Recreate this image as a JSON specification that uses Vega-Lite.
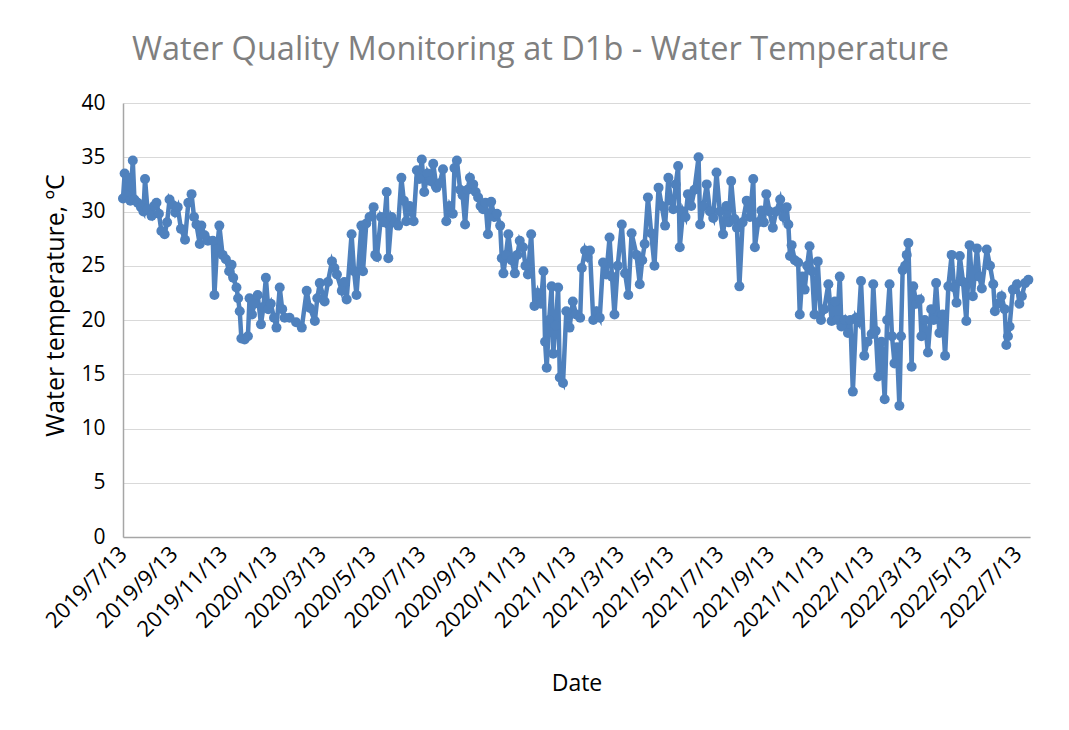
{
  "$schema": "https://vega.github.io/schema/vega-lite/v6.json",
  "width": 907,
  "height": 434,
  "autosize": {"type": "none"},
  "padding": {"left": 123, "top": 103, "right": 39, "bottom": 193},
  "background": "white",
  "title": {
    "text": "Water Quality Monitoring at D1b - Water Temperature",
    "font": "Open Sans",
    "fontSize": 32.5,
    "fontWeight": "normal",
    "color": "#7f7f7f",
    "anchor": "middle",
    "dx": -36,
    "offset": 26
  },
  "config": {
    "view": {"stroke": null},
    "axis": {"labelFont": "Open Sans", "titleFont": "Open Sans", "labelColor": "#000000", "titleColor": "#000000", "titleFontWeight": "normal"}
  },
  "data": {
    "values": [
      {"date": "2019-07-13", "temp": 31.2}, {"date": "2019-07-15", "temp": 33.5}, {"date": "2019-07-17", "temp": 31.5}, {"date": "2019-07-19", "temp": 33.1},
      {"date": "2019-07-22", "temp": 31.0}, {"date": "2019-07-25", "temp": 34.7}, {"date": "2019-07-27", "temp": 31.1}, {"date": "2019-07-31", "temp": 30.8},
      {"date": "2019-08-04", "temp": 30.4}, {"date": "2019-08-07", "temp": 30.0}, {"date": "2019-08-09", "temp": 33.0}, {"date": "2019-08-12", "temp": 30.2},
      {"date": "2019-08-17", "temp": 29.6}, {"date": "2019-08-20", "temp": 30.5}, {"date": "2019-08-23", "temp": 30.8}, {"date": "2019-08-26", "temp": 29.8},
      {"date": "2019-08-29", "temp": 28.2}, {"date": "2019-09-02", "temp": 27.9}, {"date": "2019-09-05", "temp": 29.0}, {"date": "2019-09-08", "temp": 31.1},
      {"date": "2019-09-12", "temp": 30.6}, {"date": "2019-09-15", "temp": 29.9}, {"date": "2019-09-18", "temp": 30.4}, {"date": "2019-09-22", "temp": 28.4},
      {"date": "2019-09-27", "temp": 27.4}, {"date": "2019-10-01", "temp": 30.8}, {"date": "2019-10-05", "temp": 31.6}, {"date": "2019-10-08", "temp": 29.5},
      {"date": "2019-10-11", "temp": 28.8}, {"date": "2019-10-15", "temp": 27.0}, {"date": "2019-10-17", "temp": 28.7}, {"date": "2019-10-21", "temp": 27.8},
      {"date": "2019-10-25", "temp": 27.3}, {"date": "2019-10-31", "temp": 27.3}, {"date": "2019-11-02", "temp": 22.3}, {"date": "2019-11-05", "temp": 26.5},
      {"date": "2019-11-08", "temp": 28.7}, {"date": "2019-11-12", "temp": 26.0}, {"date": "2019-11-16", "temp": 25.6}, {"date": "2019-11-20", "temp": 24.5},
      {"date": "2019-11-23", "temp": 25.1}, {"date": "2019-11-25", "temp": 23.9}, {"date": "2019-11-29", "temp": 23.0}, {"date": "2019-12-01", "temp": 22.0},
      {"date": "2019-12-03", "temp": 20.8}, {"date": "2019-12-05", "temp": 18.3}, {"date": "2019-12-09", "temp": 18.2}, {"date": "2019-12-13", "temp": 18.5},
      {"date": "2019-12-15", "temp": 22.0}, {"date": "2019-12-18", "temp": 20.5}, {"date": "2019-12-21", "temp": 21.5}, {"date": "2019-12-25", "temp": 22.3},
      {"date": "2019-12-29", "temp": 19.6}, {"date": "2020-01-01", "temp": 21.2}, {"date": "2020-01-04", "temp": 23.9}, {"date": "2020-01-07", "temp": 21.0},
      {"date": "2020-01-10", "temp": 21.5}, {"date": "2020-01-14", "temp": 20.2}, {"date": "2020-01-17", "temp": 19.3}, {"date": "2020-01-21", "temp": 23.0},
      {"date": "2020-01-24", "temp": 21.0}, {"date": "2020-01-27", "temp": 20.2}, {"date": "2020-02-02", "temp": 20.2}, {"date": "2020-02-10", "temp": 19.8},
      {"date": "2020-02-17", "temp": 19.3}, {"date": "2020-02-23", "temp": 22.7}, {"date": "2020-02-27", "temp": 21.1}, {"date": "2020-03-04", "temp": 19.9},
      {"date": "2020-03-07", "temp": 22.0}, {"date": "2020-03-10", "temp": 23.4}, {"date": "2020-03-16", "temp": 21.7}, {"date": "2020-03-20", "temp": 23.5},
      {"date": "2020-03-25", "temp": 25.4}, {"date": "2020-03-28", "temp": 24.8}, {"date": "2020-03-31", "temp": 24.2}, {"date": "2020-04-06", "temp": 22.7},
      {"date": "2020-04-09", "temp": 23.5}, {"date": "2020-04-12", "temp": 21.9}, {"date": "2020-04-18", "temp": 27.9}, {"date": "2020-04-21", "temp": 24.5},
      {"date": "2020-04-24", "temp": 22.3}, {"date": "2020-04-30", "temp": 28.7}, {"date": "2020-05-02", "temp": 24.5}, {"date": "2020-05-06", "temp": 28.9},
      {"date": "2020-05-10", "temp": 29.5}, {"date": "2020-05-15", "temp": 30.4}, {"date": "2020-05-17", "temp": 26.0}, {"date": "2020-05-19", "temp": 25.8},
      {"date": "2020-05-24", "temp": 29.5}, {"date": "2020-05-28", "temp": 29.0}, {"date": "2020-05-31", "temp": 31.8}, {"date": "2020-06-02", "temp": 25.7},
      {"date": "2020-06-06", "temp": 29.5}, {"date": "2020-06-10", "temp": 29.0}, {"date": "2020-06-14", "temp": 28.7}, {"date": "2020-06-18", "temp": 33.1},
      {"date": "2020-06-21", "temp": 31.0}, {"date": "2020-06-24", "temp": 29.1}, {"date": "2020-06-28", "temp": 30.5}, {"date": "2020-07-03", "temp": 29.1},
      {"date": "2020-07-07", "temp": 33.8}, {"date": "2020-07-10", "temp": 33.0}, {"date": "2020-07-13", "temp": 34.8}, {"date": "2020-07-16", "temp": 31.8},
      {"date": "2020-07-20", "temp": 33.5}, {"date": "2020-07-24", "temp": 32.8}, {"date": "2020-07-27", "temp": 34.4}, {"date": "2020-07-31", "temp": 32.2},
      {"date": "2020-08-04", "temp": 32.6}, {"date": "2020-08-08", "temp": 33.9}, {"date": "2020-08-12", "temp": 29.1}, {"date": "2020-08-16", "temp": 30.5},
      {"date": "2020-08-20", "temp": 29.8}, {"date": "2020-08-22", "temp": 34.0}, {"date": "2020-08-25", "temp": 34.7}, {"date": "2020-08-29", "temp": 32.0},
      {"date": "2020-09-01", "temp": 31.5}, {"date": "2020-09-04", "temp": 28.8}, {"date": "2020-09-07", "temp": 32.0}, {"date": "2020-09-10", "temp": 33.1},
      {"date": "2020-09-14", "temp": 32.5}, {"date": "2020-09-17", "temp": 31.8}, {"date": "2020-09-20", "temp": 31.3}, {"date": "2020-09-23", "temp": 30.5},
      {"date": "2020-09-26", "temp": 30.2}, {"date": "2020-09-29", "temp": 30.8}, {"date": "2020-10-02", "temp": 27.9}, {"date": "2020-10-06", "temp": 30.9},
      {"date": "2020-10-10", "temp": 29.5}, {"date": "2020-10-13", "temp": 29.8}, {"date": "2020-10-17", "temp": 28.7}, {"date": "2020-10-19", "temp": 25.7},
      {"date": "2020-10-21", "temp": 24.3}, {"date": "2020-10-24", "temp": 26.0}, {"date": "2020-10-27", "temp": 27.9}, {"date": "2020-10-31", "temp": 25.5},
      {"date": "2020-11-04", "temp": 24.3}, {"date": "2020-11-07", "temp": 26.0}, {"date": "2020-11-10", "temp": 27.3}, {"date": "2020-11-14", "temp": 26.7},
      {"date": "2020-11-17", "temp": 25.0}, {"date": "2020-11-20", "temp": 24.2}, {"date": "2020-11-24", "temp": 27.9}, {"date": "2020-11-28", "temp": 21.3},
      {"date": "2020-12-02", "temp": 22.5}, {"date": "2020-12-06", "temp": 21.5}, {"date": "2020-12-09", "temp": 24.5}, {"date": "2020-12-11", "temp": 18.0},
      {"date": "2020-12-13", "temp": 15.6}, {"date": "2020-12-16", "temp": 20.0}, {"date": "2020-12-19", "temp": 23.1}, {"date": "2020-12-21", "temp": 16.9},
      {"date": "2020-12-24", "temp": 19.5}, {"date": "2020-12-27", "temp": 23.0}, {"date": "2020-12-29", "temp": 14.7}, {"date": "2021-01-02", "temp": 14.2},
      {"date": "2021-01-06", "temp": 20.8}, {"date": "2021-01-10", "temp": 19.3}, {"date": "2021-01-14", "temp": 21.7}, {"date": "2021-01-18", "temp": 20.5},
      {"date": "2021-01-23", "temp": 20.2}, {"date": "2021-01-25", "temp": 24.8}, {"date": "2021-01-29", "temp": 26.4}, {"date": "2021-02-01", "temp": 25.8},
      {"date": "2021-02-04", "temp": 26.4}, {"date": "2021-02-08", "temp": 20.0}, {"date": "2021-02-12", "temp": 20.8}, {"date": "2021-02-16", "temp": 20.2},
      {"date": "2021-02-20", "temp": 25.3}, {"date": "2021-02-24", "temp": 24.2}, {"date": "2021-02-28", "temp": 27.6}, {"date": "2021-03-03", "temp": 24.0},
      {"date": "2021-03-06", "temp": 20.5}, {"date": "2021-03-10", "temp": 25.0}, {"date": "2021-03-15", "temp": 28.8}, {"date": "2021-03-19", "temp": 24.3},
      {"date": "2021-03-23", "temp": 22.3}, {"date": "2021-03-27", "temp": 28.0}, {"date": "2021-04-02", "temp": 26.0}, {"date": "2021-04-06", "temp": 23.3},
      {"date": "2021-04-09", "temp": 25.5}, {"date": "2021-04-12", "temp": 27.0}, {"date": "2021-04-16", "temp": 31.3}, {"date": "2021-04-20", "temp": 28.0},
      {"date": "2021-04-24", "temp": 25.0}, {"date": "2021-04-29", "temp": 32.2}, {"date": "2021-05-03", "temp": 30.5}, {"date": "2021-05-07", "temp": 28.7},
      {"date": "2021-05-11", "temp": 33.1}, {"date": "2021-05-14", "temp": 31.0}, {"date": "2021-05-17", "temp": 30.2}, {"date": "2021-05-20", "temp": 32.5},
      {"date": "2021-05-23", "temp": 34.2}, {"date": "2021-05-25", "temp": 26.7}, {"date": "2021-05-29", "temp": 30.0}, {"date": "2021-06-01", "temp": 29.5},
      {"date": "2021-06-04", "temp": 31.6}, {"date": "2021-06-08", "temp": 30.5}, {"date": "2021-06-12", "temp": 32.0}, {"date": "2021-06-17", "temp": 35.0},
      {"date": "2021-06-19", "temp": 28.8}, {"date": "2021-06-23", "temp": 30.5}, {"date": "2021-06-27", "temp": 32.5}, {"date": "2021-07-01", "temp": 30.0},
      {"date": "2021-07-05", "temp": 29.4}, {"date": "2021-07-09", "temp": 33.6}, {"date": "2021-07-13", "temp": 30.0}, {"date": "2021-07-17", "temp": 27.9},
      {"date": "2021-07-21", "temp": 30.5}, {"date": "2021-07-24", "temp": 29.0}, {"date": "2021-07-27", "temp": 32.8}, {"date": "2021-07-31", "temp": 29.3},
      {"date": "2021-08-03", "temp": 28.5}, {"date": "2021-08-06", "temp": 23.1}, {"date": "2021-08-10", "temp": 29.0}, {"date": "2021-08-15", "temp": 31.0},
      {"date": "2021-08-19", "temp": 29.5}, {"date": "2021-08-23", "temp": 33.0}, {"date": "2021-08-25", "temp": 26.7}, {"date": "2021-08-29", "temp": 29.0},
      {"date": "2021-09-02", "temp": 30.1}, {"date": "2021-09-05", "temp": 29.0}, {"date": "2021-09-08", "temp": 31.6}, {"date": "2021-09-12", "temp": 30.0},
      {"date": "2021-09-16", "temp": 28.5}, {"date": "2021-09-20", "temp": 30.0}, {"date": "2021-09-25", "temp": 31.1}, {"date": "2021-09-29", "temp": 29.5},
      {"date": "2021-10-03", "temp": 30.4}, {"date": "2021-10-05", "temp": 28.8}, {"date": "2021-10-07", "temp": 25.9}, {"date": "2021-10-09", "temp": 26.9},
      {"date": "2021-10-13", "temp": 25.5}, {"date": "2021-10-17", "temp": 25.3}, {"date": "2021-10-19", "temp": 20.5}, {"date": "2021-10-22", "temp": 24.0},
      {"date": "2021-10-25", "temp": 22.8}, {"date": "2021-10-28", "temp": 25.0}, {"date": "2021-10-31", "temp": 26.8}, {"date": "2021-11-03", "temp": 24.5},
      {"date": "2021-11-06", "temp": 20.5}, {"date": "2021-11-10", "temp": 25.4}, {"date": "2021-11-14", "temp": 20.0}, {"date": "2021-11-18", "temp": 21.0},
      {"date": "2021-11-23", "temp": 23.3}, {"date": "2021-11-27", "temp": 19.9}, {"date": "2021-12-01", "temp": 21.7}, {"date": "2021-12-04", "temp": 20.0},
      {"date": "2021-12-07", "temp": 24.0}, {"date": "2021-12-09", "temp": 19.4}, {"date": "2021-12-13", "temp": 20.0}, {"date": "2021-12-17", "temp": 18.8},
      {"date": "2021-12-20", "temp": 20.0}, {"date": "2021-12-23", "temp": 13.4}, {"date": "2021-12-27", "temp": 20.2}, {"date": "2021-12-30", "temp": 19.8},
      {"date": "2022-01-02", "temp": 23.6}, {"date": "2022-01-06", "temp": 16.7}, {"date": "2022-01-10", "temp": 18.0}, {"date": "2022-01-15", "temp": 18.7},
      {"date": "2022-01-17", "temp": 23.3}, {"date": "2022-01-20", "temp": 19.0}, {"date": "2022-01-23", "temp": 14.8}, {"date": "2022-01-27", "temp": 18.0},
      {"date": "2022-01-31", "temp": 12.7}, {"date": "2022-02-03", "temp": 20.0}, {"date": "2022-02-06", "temp": 23.3}, {"date": "2022-02-09", "temp": 18.5},
      {"date": "2022-02-12", "temp": 16.0}, {"date": "2022-02-15", "temp": 17.5}, {"date": "2022-02-18", "temp": 12.1}, {"date": "2022-02-20", "temp": 18.5},
      {"date": "2022-02-22", "temp": 24.6}, {"date": "2022-02-25", "temp": 25.0}, {"date": "2022-02-27", "temp": 26.0}, {"date": "2022-03-01", "temp": 27.1},
      {"date": "2022-03-05", "temp": 15.7}, {"date": "2022-03-07", "temp": 23.1}, {"date": "2022-03-11", "temp": 21.5}, {"date": "2022-03-15", "temp": 21.9},
      {"date": "2022-03-17", "temp": 18.5}, {"date": "2022-03-21", "temp": 20.0}, {"date": "2022-03-25", "temp": 17.0}, {"date": "2022-03-29", "temp": 21.0},
      {"date": "2022-04-01", "temp": 20.0}, {"date": "2022-04-04", "temp": 23.4}, {"date": "2022-04-08", "temp": 18.8}, {"date": "2022-04-12", "temp": 20.5},
      {"date": "2022-04-15", "temp": 16.7}, {"date": "2022-04-19", "temp": 23.1}, {"date": "2022-04-23", "temp": 26.0}, {"date": "2022-04-26", "temp": 23.0},
      {"date": "2022-04-29", "temp": 21.6}, {"date": "2022-05-03", "temp": 25.9}, {"date": "2022-05-07", "temp": 23.5}, {"date": "2022-05-11", "temp": 19.9},
      {"date": "2022-05-15", "temp": 26.9}, {"date": "2022-05-19", "temp": 22.2}, {"date": "2022-05-24", "temp": 26.6}, {"date": "2022-05-27", "temp": 24.0},
      {"date": "2022-05-30", "temp": 22.9}, {"date": "2022-06-05", "temp": 26.5}, {"date": "2022-06-09", "temp": 25.0}, {"date": "2022-06-13", "temp": 23.3},
      {"date": "2022-06-15", "temp": 20.8}, {"date": "2022-06-19", "temp": 21.5}, {"date": "2022-06-23", "temp": 22.2}, {"date": "2022-06-27", "temp": 21.0},
      {"date": "2022-06-29", "temp": 17.7}, {"date": "2022-07-01", "temp": 18.5}, {"date": "2022-07-03", "temp": 19.4}, {"date": "2022-07-07", "temp": 22.8},
      {"date": "2022-07-12", "temp": 23.3}, {"date": "2022-07-15", "temp": 21.5}, {"date": "2022-07-18", "temp": 22.2}, {"date": "2022-07-22", "temp": 23.4},
      {"date": "2022-07-26", "temp": 23.7}
    ]
  },
  "mark": {
    "type": "line",
    "color": "#4f81bd",
    "strokeWidth": 4.5,
    "point": {"filled": true, "size": 100, "color": "#4f81bd"}
  },
  "encoding": {
    "x": {
      "field": "date",
      "type": "temporal",
      "title": "Date",
      "scale": {
        "type": "utc",
        "domain": [
          {"year": 2019, "month": 7, "date": 13, "utc": true},
          {"year": 2022, "month": 7, "date": 28, "utc": true}
        ]
      },
      "axis": {
        "values": [
          {"year": 2019, "month": 7, "date": 13, "utc": true},
          {"year": 2019, "month": 9, "date": 13, "utc": true},
          {"year": 2019, "month": 11, "date": 13, "utc": true},
          {"year": 2020, "month": 1, "date": 13, "utc": true},
          {"year": 2020, "month": 3, "date": 13, "utc": true},
          {"year": 2020, "month": 5, "date": 13, "utc": true},
          {"year": 2020, "month": 7, "date": 13, "utc": true},
          {"year": 2020, "month": 9, "date": 13, "utc": true},
          {"year": 2020, "month": 11, "date": 13, "utc": true},
          {"year": 2021, "month": 1, "date": 13, "utc": true},
          {"year": 2021, "month": 3, "date": 13, "utc": true},
          {"year": 2021, "month": 5, "date": 13, "utc": true},
          {"year": 2021, "month": 7, "date": 13, "utc": true},
          {"year": 2021, "month": 9, "date": 13, "utc": true},
          {"year": 2021, "month": 11, "date": 13, "utc": true},
          {"year": 2022, "month": 1, "date": 13, "utc": true},
          {"year": 2022, "month": 3, "date": 13, "utc": true},
          {"year": 2022, "month": 5, "date": 13, "utc": true},
          {"year": 2022, "month": 7, "date": 13, "utc": true}
        ],
        "format": "%Y/%-m/%-d",
        "labelAngle": -45,
        "labelAlign": "right",
        "labelBaseline": "middle",
        "labelFontSize": 22,
        "labelPadding": 13,
        "labelOverlap": false,
        "labelBound": false,
        "ticks": false,
        "tickSize": 0,
        "grid": false,
        "domainColor": "#a6a6a6",
        "domainWidth": 1.5,
        "titleFontSize": 23,
        "titlePadding": 32
      }
    },
    "y": {
      "field": "temp",
      "type": "quantitative",
      "title": "Water temperature, ºC",
      "scale": {"domain": [0, 40], "nice": false},
      "axis": {
        "values": [0, 5, 10, 15, 20, 25, 30, 35, 40],
        "labelFontSize": 21,
        "labelPadding": 18,
        "ticks": false,
        "tickSize": 0,
        "grid": true,
        "gridColor": "#d9d9d9",
        "gridWidth": 1.2,
        "domainColor": "#a6a6a6",
        "domainWidth": 1.5,
        "titleFontSize": 25,
        "titlePadding": 12,
        "titleY": 202
      }
    }
  }
}
